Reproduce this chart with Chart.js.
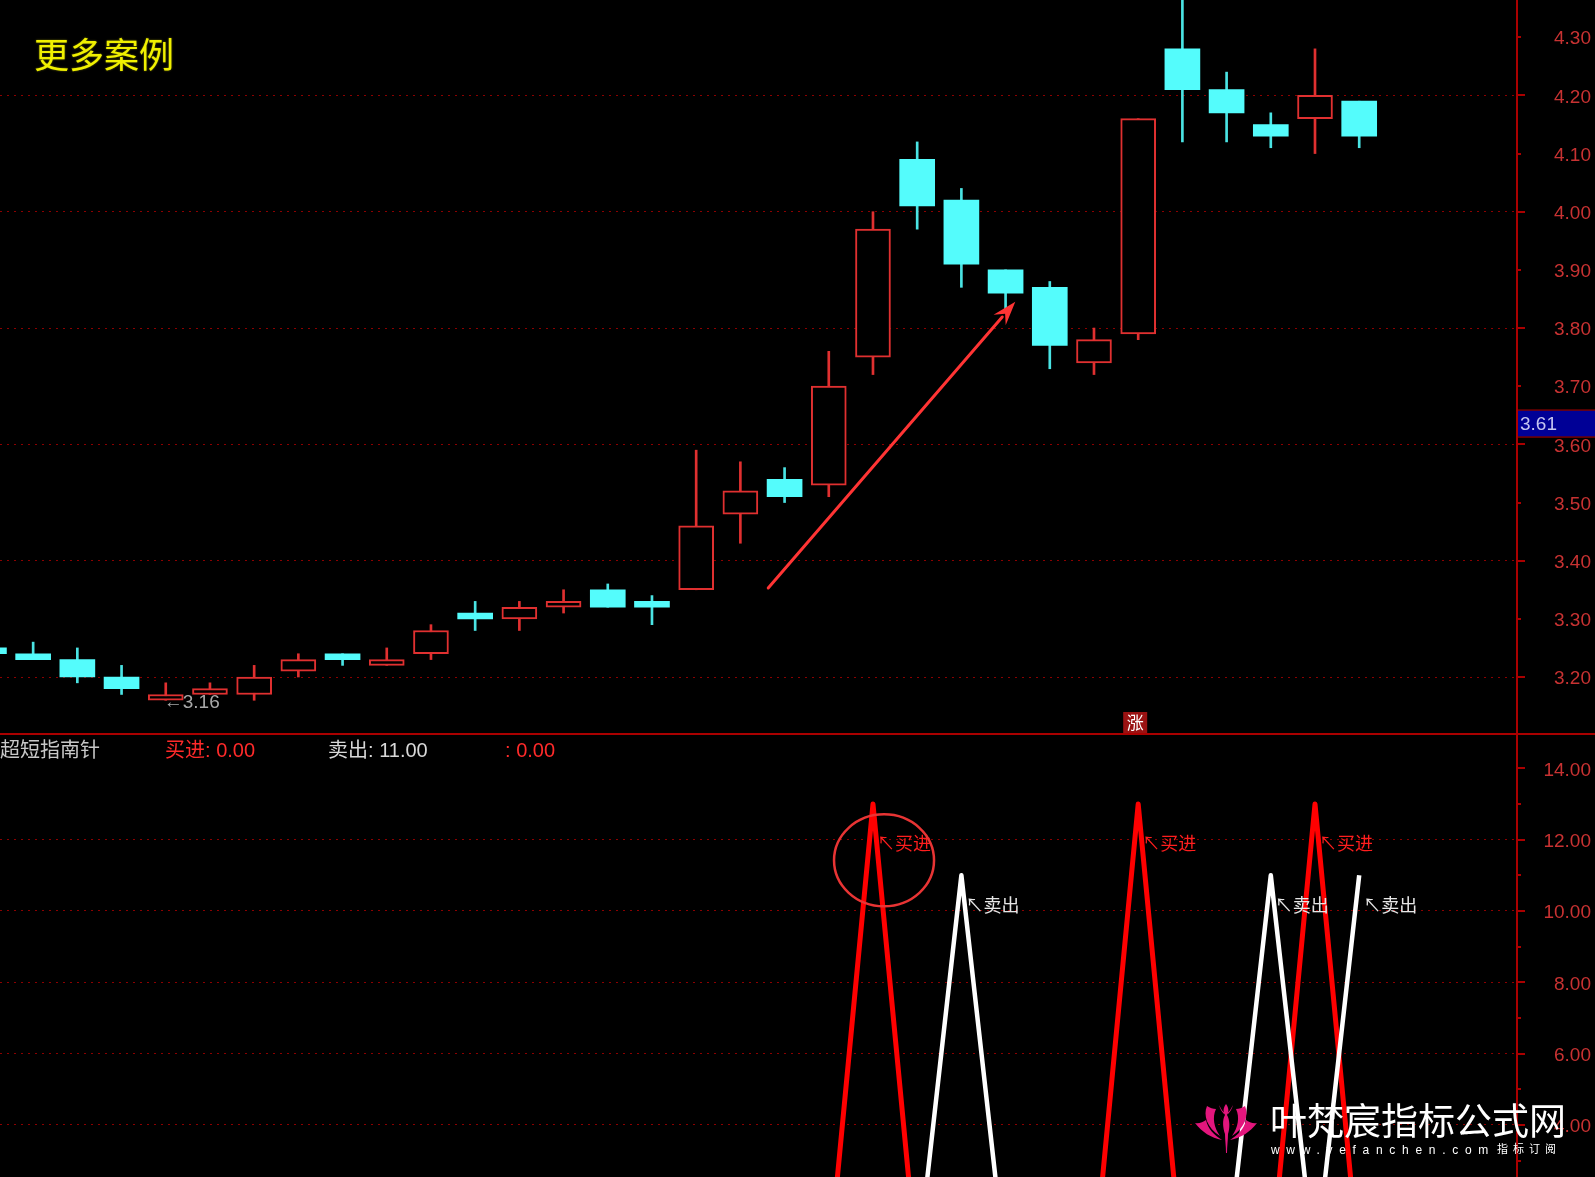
<!DOCTYPE html>
<html lang="zh-CN">
<head>
<meta charset="utf-8">
<title>超短指南针</title>
<script src="https://cdn.jsdelivr.net/npm/chart.js@4.4.1/dist/chart.umd.min.js"></script>
<style>
  html, body { margin:0; padding:0; background:#000; }
  #stage { position:relative; width:1595px; height:1177px; background:#000; overflow:hidden; }
  canvas { position:absolute; left:0; display:block; }
  #priceCanvas { top:0; }
  #indCanvas { top:735px; }
  .lbl { position:absolute; white-space:nowrap; line-height:1; font-family:"Liberation Sans","Noto Sans CJK SC",sans-serif; }
  .cjk { font-family:"Noto Sans CJK SC",sans-serif; }
</style>
</head>
<body>
<div id="stage">
  <canvas id="priceCanvas" width="1595" height="735"></canvas>
  <canvas id="indCanvas" width="1595" height="442"></canvas>

  <div class="lbl cjk" style="left:34px;top:35px;font-size:35px;color:#f0f000;text-shadow:0 0 2px rgba(240,240,0,0.5);">更多案例</div>

  <div class="lbl" style="left:0;top:740px;font-size:20px;color:#c8c8c8;">超短指南针</div>
  <div class="lbl" style="left:165px;top:740px;font-size:20px;color:#ff2a2a;">买进: <span id="buyVal"></span></div>
  <div class="lbl" style="left:328px;top:740px;font-size:20px;color:#d8d8d8;">卖出: <span id="sellVal"></span></div>
  <div class="lbl" style="left:505px;top:740px;font-size:20px;color:#ff2a2a;">: <span id="thirdVal"></span></div>

  <svg width="66" height="54" viewBox="0 0 66 54" style="position:absolute;left:1193px;top:1101px">
    <g fill="#e3167d">
      <path d="M2 22 C9 31 18 37 29 39 C21 34 15 28 13 19 C10 21 6 23 2 22Z"/>
      <path d="M64 22 C57 31 48 37 37 39 C45 34 51 28 53 19 C56 21 60 23 64 22Z"/>
      <path d="M14 5 C10 14 14 27 27 35 C21 27 19 16 23 8 C20 8 17 7 14 5Z"/>
      <path d="M52 5 C56 14 52 27 39 35 C45 27 47 16 43 8 C46 8 49 7 52 5Z"/>
      <path d="M33 3 C30 7 30 11 32 14 C29 19 30 27 32 33 C32 39 33 45 33 52 L34 52 C34 45 35 39 35 33 C37 27 37 19 34 14 C36 11 36 7 33 3Z"/>
      <path d="M26 4 C28 8 30 11 32 12 L31 13 C29 11 27 8 26 4Z"/>
      <path d="M40 4 C38 8 36 11 34 12 L35 13 C37 11 39 8 40 4Z"/>
    </g>
  </svg>
  <div class="lbl cjk" style="left:1270px;top:1101px;font-size:37px;color:#ffffff;">叶梵宸指标公式网</div>
  <div class="lbl" style="left:1271px;top:1144px;font-size:12px;color:#ffffff;letter-spacing:6.7px;">www.yefanchen.com</div>
  <div class="lbl cjk" style="left:1497px;top:1143px;font-size:11px;color:#ffffff;letter-spacing:5px;">指标订阅</div>
</div>

<script>
// ---------------- data ----------------
const barIndex = [-1,0,1,2,3,4,5,6,7,8,9,10,11,12,13,14,15,16,17,18,19,20,21,22,23,24,25,26,27,28,29,30];
const opens  = [3.25,3.24,3.23,3.20,3.16,3.17,3.17,3.21,3.24,3.22,3.24,3.31,3.30,3.32,3.35,3.33,3.35,3.48,3.54,3.53,3.75,4.09,4.02,3.90,3.87,3.74,3.79,4.28,4.21,4.15,4.16,4.19];
const highs  = [3.25,3.26,3.25,3.22,3.19,3.19,3.22,3.24,3.24,3.25,3.29,3.33,3.33,3.35,3.36,3.34,3.59,3.57,3.56,3.76,4.00,4.12,4.04,3.90,3.88,3.80,4.16,4.38,4.24,4.17,4.28,4.19];
const lows   = [3.24,3.23,3.19,3.17,3.16,3.17,3.16,3.20,3.22,3.22,3.23,3.28,3.28,3.31,3.32,3.29,3.35,3.43,3.50,3.51,3.72,3.97,3.87,3.83,3.73,3.72,3.78,4.12,4.12,4.11,4.10,4.11];
const closes = [3.24,3.23,3.20,3.18,3.17,3.18,3.20,3.23,3.23,3.23,3.28,3.30,3.32,3.33,3.32,3.32,3.46,3.52,3.51,3.70,3.97,4.01,3.91,3.86,3.77,3.78,4.16,4.21,4.17,4.13,4.20,4.13];
const buyLine  = [0,0,0,0,0,0,0,0,0,0,0,0,0,0,0,0,0,0,0,0,13,0,0,0,0,0,13,0,0,0,13,0];
const sellLine = [0,0,0,0,0,0,0,0,0,0,0,0,0,0,0,0,0,0,0,0,0,0,11,0,0,0,0,0,0,11,0,11];
const thirdLine = [0,0,0,0,0,0,0,0,0,0,0,0,0,0,0,0,0,0,0,0,0,0,0,0,0,0,0,0,0,0,0,0];
const cursorPrice = 3.61;
const riseMarkIndex = 25;
const arrowFrom = [16.63, 3.353];
const arrowTo   = [22.22, 3.845];
const circleMark = [19.25, 11.42];

// ---------------- style ----------------
const UP = '#e03030', DOWN = '#54fcfc', DOWN_WICK = '#4ae4e4';
const AXIS = '#aa0000', GRID = '#8c0000', TICKTXT = '#c83232';
const X_MIN = -0.75, X_MAX = 33.57;

document.getElementById('buyVal').textContent = buyLine[buyLine.length-1].toFixed(2);
document.getElementById('sellVal').textContent = sellLine[sellLine.length-1].toFixed(2);
document.getElementById('thirdVal').textContent = thirdLine[thirdLine.length-1].toFixed(2);

const isUp = i => closes[i] >= opens[i];

function axisDecor(chart, isMajor) {
  const {ctx, chartArea, scales: {y}} = chart;
  ctx.save();
  ctx.strokeStyle = AXIS;
  ctx.lineWidth = 2;
  ctx.beginPath();
  ctx.moveTo(chartArea.right, 0);
  ctx.lineTo(chartArea.right, chart.height);
  ctx.stroke();
  y.ticks.forEach(t => {
    const py = Math.round(y.getPixelForValue(t.value));
    const len = isMajor(t.value) ? 8 : 4;
    ctx.beginPath();
    ctx.moveTo(chartArea.right, py);
    ctx.lineTo(chartArea.right + len, py);
    ctx.stroke();
  });
  ctx.restore();
}

const priceDecor = {
  id: 'priceDecor',
  afterDatasetsDraw(chart) {
    const {ctx, scales: {x, y}} = chart;
    ctx.save();
    let lo = 0, hi = 0;
    lows.forEach((v, i) => { if (v < lows[lo]) lo = i; });
    highs.forEach((v, i) => { if (v > highs[hi]) hi = i; });
    ctx.font = '19px "Liberation Sans", "DejaVu Sans", sans-serif';
    ctx.fillStyle = '#a8a8a8';
    ctx.textBaseline = 'middle';
    ctx.textAlign = 'left';
    ctx.fillText('←' + lows[lo].toFixed(2), x.getPixelForValue(barIndex[lo]) - 2, y.getPixelForValue(lows[lo]) + 2);
    ctx.fillText('←' + highs[hi].toFixed(2), x.getPixelForValue(barIndex[hi]) + 6, y.getPixelForValue(highs[hi]) + 2);
    // arrow
    const x1 = x.getPixelForValue(arrowFrom[0]), y1 = y.getPixelForValue(arrowFrom[1]);
    const x2 = x.getPixelForValue(arrowTo[0]),   y2 = y.getPixelForValue(arrowTo[1]);
    const ang = Math.atan2(y2 - y1, x2 - x1);
    const headLen = 24, headHalf = 8;
    const bx = x2 - headLen * Math.cos(ang), by = y2 - headLen * Math.sin(ang);
    ctx.strokeStyle = '#ff3434';
    ctx.fillStyle = '#ff3434';
    ctx.lineWidth = 3;
    ctx.lineCap = 'round';
    ctx.beginPath();
    ctx.moveTo(x1, y1);
    ctx.lineTo(bx + 4 * Math.cos(ang), by + 4 * Math.sin(ang));
    ctx.stroke();
    ctx.beginPath();
    ctx.moveTo(x2, y2);
    ctx.lineTo(bx + headHalf * Math.sin(ang), by - headHalf * Math.cos(ang));
    ctx.lineTo(bx + 0.35 * headLen * Math.cos(ang), by + 0.35 * headLen * Math.sin(ang));
    ctx.lineTo(bx - headHalf * Math.sin(ang), by + headHalf * Math.cos(ang));
    ctx.closePath();
    ctx.fill();
    ctx.restore();
  },
  afterDraw(chart) {
    const {ctx, chartArea, scales: {x, y}} = chart;
    axisDecor(chart, v => Math.abs(Math.round(v * 10)) % 2 === 0);
    ctx.save();
    ctx.strokeStyle = AXIS;
    ctx.lineWidth = 2;
    ctx.beginPath();
    ctx.moveTo(0, chart.height - 1);
    ctx.lineTo(chart.width, chart.height - 1);
    ctx.stroke();
    // current price box
    const py = y.getPixelForValue(cursorPrice);
    ctx.fillStyle = '#000096';
    ctx.fillRect(chartArea.right, py - 28, chart.width - chartArea.right, 26);
    ctx.strokeStyle = '#b00000';
    ctx.lineWidth = 1;
    ctx.strokeRect(chartArea.right + 0.5, py - 28.5, chart.width - chartArea.right, 27);
    ctx.font = '19px "Liberation Sans", sans-serif';
    ctx.fillStyle = '#c4c4f0';
    ctx.textBaseline = 'middle';
    ctx.textAlign = 'left';
    ctx.fillText(cursorPrice.toFixed(2), chartArea.right + 3, py - 14);
    // rise marker
    const mx = x.getPixelForValue(riseMarkIndex) - 3;
    ctx.fillStyle = '#9a1212';
    ctx.fillRect(mx - 12, chartArea.bottom - 23, 24, 21);
    ctx.font = '17px "Noto Sans CJK SC", sans-serif';
    ctx.fillStyle = '#ffffff';
    ctx.textAlign = 'center';
    ctx.fillText('涨', mx, chartArea.bottom - 12);
    ctx.restore();
  }
};

new Chart(document.getElementById('priceCanvas'), {
  type: 'bar',
  data: {
    datasets: [
      {
        label: 'wick',
        data: barIndex.map((k, i) => ({x: k, y: [lows[i], highs[i]]})),
        backgroundColor: c => isUp(c.dataIndex) ? UP : DOWN_WICK,
        borderWidth: 0,
        barThickness: 2,
        grouped: false,
        order: 2
      },
      {
        label: 'body',
        data: barIndex.map((k, i) => ({x: k, y: [opens[i], closes[i]]})),
        backgroundColor: c => isUp(c.dataIndex) ? '#000000' : DOWN,
        borderColor: c => isUp(c.dataIndex) ? UP : DOWN,
        borderWidth: c => isUp(c.dataIndex) ? 2 : 0,
        borderSkipped: false,
        barThickness: 35,
        grouped: false,
        order: 1
      }
    ]
  },
  options: {
    responsive: false,
    animation: false,
    devicePixelRatio: 1,
    layout: {padding: {left: 0, right: 4, top: 0, bottom: 0}},
    plugins: {legend: {display: false}, tooltip: {enabled: false}},
    scales: {
      x: {type: 'linear', display: false, min: X_MIN, max: X_MAX, offset: false},
      y: {
        position: 'right',
        min: 3.1003, max: 4.364,
        ticks: {
          stepSize: 0.1, autoSkip: false, includeBounds: false,
          color: TICKTXT, font: {family: 'Liberation Sans', size: 19},
          padding: 37, crossAlign: 'far', labelOffset: 2,
          callback: v => Number(v).toFixed(2)
        },
        grid: {
          drawTicks: false, lineWidth: 1,
          color: c => (c.tick && Math.abs(Math.round(c.tick.value * 10)) % 2 === 0) ? GRID : 'rgba(0,0,0,0)'
        },
        border: {display: false, dash: [2, 5]},
        afterFit: s => { s.width = 74; s.paddingTop = 0; s.paddingBottom = 0; }
      }
    }
  },
  plugins: [priceDecor]
});

const buyLabelDrop = 1.1, sellLabelDrop = 0.85;
const indDecor = {
  id: 'indDecor',
  afterDatasetsDraw(chart) {
    const {ctx, scales: {x, y}} = chart;
    ctx.save();
    ctx.font = '18px "Noto Sans CJK SC", sans-serif';
    ctx.textBaseline = 'middle';
    ctx.textAlign = 'left';
    barIndex.forEach((k, i) => {
      if (buyLine[i] > 0) {
        ctx.fillStyle = '#ff1e1e';
        ctx.fillText('↖买进', x.getPixelForValue(k) + 4, y.getPixelForValue(buyLine[i] - buyLabelDrop));
      }
      if (sellLine[i] > 0) {
        ctx.fillStyle = '#e6e6e6';
        ctx.fillText('↖卖出', x.getPixelForValue(k) + 4, y.getPixelForValue(sellLine[i] - sellLabelDrop));
      }
    });
    ctx.strokeStyle = '#e83434';
    ctx.lineWidth = 2.5;
    ctx.beginPath();
    ctx.ellipse(x.getPixelForValue(circleMark[0]), y.getPixelForValue(circleMark[1]), 50, 46, 0, 0, Math.PI * 2);
    ctx.stroke();
    ctx.restore();
  },
  afterDraw(chart) {
    axisDecor(chart, v => Math.round(v) % 2 === 0);
  }
};

new Chart(document.getElementById('indCanvas'), {
  type: 'line',
  data: {
    datasets: [
      {
        label: '买进',
        data: barIndex.map((k, i) => ({x: k, y: buyLine[i]})),
        borderColor: '#ff0000', borderWidth: 5, pointRadius: 0, tension: 0,
        borderJoinStyle: 'round', fill: false, order: 2
      },
      {
        label: '卖出',
        data: barIndex.map((k, i) => ({x: k, y: sellLine[i]})),
        borderColor: '#ffffff', borderWidth: 4.5, pointRadius: 0, tension: 0,
        borderJoinStyle: 'round', fill: false, order: 1
      }
    ]
  },
  options: {
    responsive: false,
    animation: false,
    devicePixelRatio: 1,
    layout: {padding: {left: 0, right: 4, top: 0, bottom: 0}},
    plugins: {legend: {display: false}, tooltip: {enabled: false}},
    scales: {
      x: {type: 'linear', display: false, min: X_MIN, max: X_MAX, offset: false},
      y: {
        position: 'right',
        min: 2.542, max: 14.934,
        ticks: {
          stepSize: 1, autoSkip: false, includeBounds: false,
          color: TICKTXT, font: {family: 'Liberation Sans', size: 19},
          padding: 26.5, crossAlign: 'far', labelOffset: 2,
          callback: v => (Math.round(v) % 2 === 0) ? Number(v).toFixed(2) : ''
        },
        grid: {
          drawTicks: false, lineWidth: 1,
          color: c => (c.tick && Math.round(c.tick.value) % 2 === 0 && c.tick.value < 13.5) ? GRID : 'rgba(0,0,0,0)'
        },
        border: {display: false, dash: [2, 5]},
        afterFit: s => { s.width = 74; s.paddingTop = 0; s.paddingBottom = 0; }
      }
    }
  },
  plugins: [indDecor]
});
</script>
</body>
</html>
